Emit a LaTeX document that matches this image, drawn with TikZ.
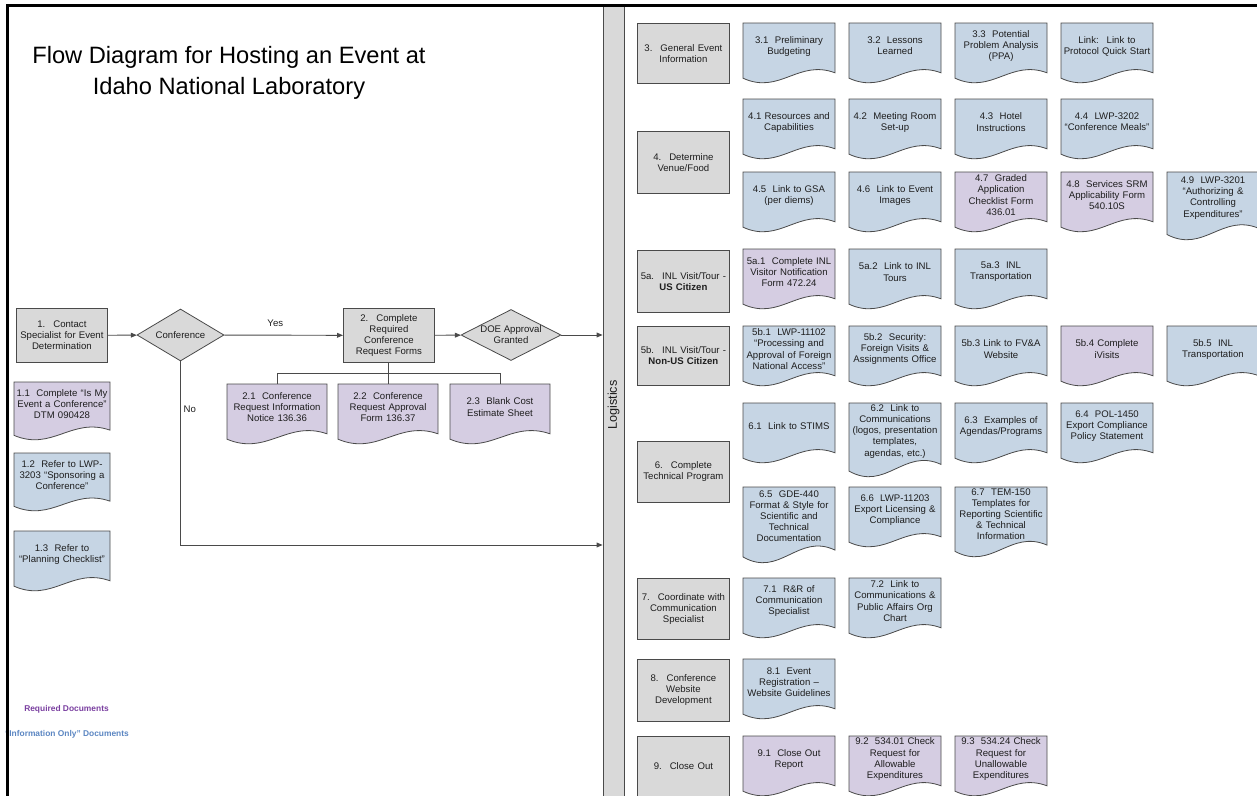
\documentclass[tikz,border=0pt]{standalone}
\usepackage{fontspec}
\setmainfont{Liberation Sans}
\usetikzlibrary{arrows.meta,shapes.geometric,calc}
\definecolor{gfill}{HTML}{D9D9D9}
\definecolor{bfill}{HTML}{C6D5E4}
\definecolor{pfill}{HTML}{D5CDE2}
\definecolor{edge}{HTML}{4A4A4A}
\definecolor{ink}{HTML}{1E1E1E}
\definecolor{reqc}{HTML}{7A3FA0}
\definecolor{infc}{HTML}{5B86C2}
\tikzset{
 every node/.style={font=\fontsize{7.2}{8.3}\selectfont, text=ink},
 gbox/.style={draw=edge, fill=gfill, line width=0.6pt, align=center, inner sep=1pt, anchor=north west},
 docshape/.style={draw=edge, line width=0.6pt},
 doctext/.style={align=center, inner sep=0pt, anchor=north},
 conn/.style={draw=edge, line width=0.7pt},
 arr/.style={conn, -{Triangle[length=4.5pt,width=3.6pt]}},
 decision/.style={diamond, draw=edge, fill=gfill, line width=0.6pt, inner sep=0pt},
}
% #1 name, #2 left, #3 top, #4 width, #5 height, #6 fill, #7 text
\newcommand\docitem[7]{%
 \path[docshape, fill=#6] (#2,#3) -- ({#2+#4},#3) -- ({#2+#4},{#3+0.83*#5})
   .. controls ({#2+0.6*#4},{#3+0.6*#5}) and ({#2+0.4*#4},{#3+1.2*#5}) .. (#2,{#3+0.92*#5}) -- cycle;
 \pgfmathsetlengthmacro\dtw{(#4-4)*0.75pt}%
 \pgfmathsetlengthmacro\dmh{0.76*#5*0.75pt}%
 \node[doctext, text width=\dtw, minimum height=\dmh] (#1) at ({#2+0.5*#4},#3) {#7};
}
% #1 name, #2 left, #3 top, #4 w, #5 h, #6 text
\newcommand\gbx[6]{%
 \pgfmathsetlengthmacro\bw{#4*0.75pt}%
 \pgfmathsetlengthmacro\bh{#5*0.75pt}%
 \pgfmathsetlengthmacro\btw{(#4-4)*0.75pt}%
 \node[gbox, minimum width=\bw, minimum height=\bh, text width=\btw] (#1) at (#2,#3) {#6};
}
\begin{document}
\begin{tikzpicture}[x=0.75pt,y=-0.75pt]
\useasboundingbox (0,0) rectangle (1257,796);
\clip (0,0) rectangle (1257,796);

% title
\node[font=\fontsize{17.75}{23.25}\selectfont, align=center, text=black] (title) at (229,73)
  {Flow Diagram for Hosting an Event at\\Idaho National Laboratory};

% logistics bar
\node[draw=edge, fill=gfill, line width=0.6pt, minimum width=15.75pt, minimum height=600pt, inner sep=0pt,
  label={[rotate=90, font=\fontsize{9.5}{11}\selectfont]center:Logistics}] (logbar) at (613.5,405) {};

% left flow
\gbx{b1}{16}{308}{91}{54}{1.~ Contact\\Specialist for Event\\Determination}
\node[decision, minimum width=65.25pt, minimum height=39pt, label={center:Conference}] (conf) at (180.5,335) {};
\gbx{b2}{343}{308}{91}{54}{2.~ Complete\\Required\\Conference\\Request Forms}
\node[decision, minimum width=75pt, minimum height=38.25pt,
  label={[align=center]center:DOE Approval\\Granted}] (doe) at (511,335) {};

\docitem{d11}{14}{382}{96}{58}{pfill}{1.1~ Complete “Is My\\Event a Conference”\\DTM 090428}
\docitem{d12}{14}{453}{96}{58}{bfill}{1.2~ Refer to LWP-\\3203 “Sponsoring a\\Conference”}
\docitem{d13}{14}{531}{96}{60}{bfill}{1.3~ Refer to\\“Planning Checklist”}

\docitem{d21}{227}{384}{100}{60}{pfill}{2.1~ Conference\\Request Information\\Notice 136.36}
\docitem{d22}{338}{384}{100}{60}{pfill}{2.2~ Conference\\Request Approval\\Form 136.37}
\docitem{d23}{450}{384}{100}{60}{pfill}{2.3~ Blank Cost\\Estimate Sheet}

\draw[arr] (b1) -- (conf);
\draw[arr] (conf) -- node[pos=0.43, above=3pt]{Yes} (b2);
\draw[arr] (b2) -- (doe);
\draw[arr] (doe.east) -- (doe.east -| logbar.west);
\coordinate (nolevel) at (0,545);
\coordinate (noend) at (logbar.west |- nolevel);
\draw[arr] (conf.south) |- node[pos=0.13, right, inner sep=2pt]{No} (noend);
\draw[conn] (b2.south) -- (b2.south |- d22.north);
\draw[conn] (d21.north) |- ($(b2.south)!0.5!(b2.south |- d22.north)$) -| (d23.north);

% legend
\node[font=\bfseries\fontsize{6.3}{7.5}\selectfont, text=reqc] (legreq) at (66.5,709) {Required Documents};
\node[font=\bfseries\fontsize{6.3}{7.5}\selectfont, text=infc] (leginfo) at (67,734) {“Information Only” Documents};

% right side: step boxes
\gbx{b3}{637}{23}{92}{60}{3.~ General Event\\Information}
\gbx{b4}{637}{131}{92}{62}{4.~ Determine\\Venue/Food}
\gbx{b5a}{637}{250}{92}{62}{5a.~ INL Visit/Tour -\\\textbf{US Citizen}}
\gbx{b5b}{637}{326}{92}{59}{5b.~ INL Visit/Tour -\\\textbf{Non-US Citizen}}
\gbx{b6}{637}{441}{92}{61}{6.~ Complete\\Technical Program}
\gbx{b7}{637}{578}{92}{61}{7.~ Coordinate with\\Communication\\Specialist}
\gbx{b8}{637}{659}{92}{62}{8.~ Conference\\Website\\Development}
\gbx{b9}{637}{736}{92}{60}{9.~ Close Out}

% row 3
\docitem{d31}{743}{23}{92}{60}{bfill}{3.1~ Preliminary\\Budgeting}
\docitem{d32}{849}{23}{92}{60}{bfill}{3.2~ Lessons\\Learned}
\docitem{d33}{955}{23}{92}{60}{bfill}{3.3~ Potential\\Problem Analysis\\(PPA)}
\docitem{dlk}{1061}{23}{92}{60}{bfill}{Link:~ Link to\\Protocol Quick Start}
% row 4
\docitem{d41}{743}{99}{92}{60}{bfill}{4.1 Resources and\\Capabilities}
\docitem{d42}{849}{99}{92}{60}{bfill}{4.2~ Meeting Room\\Set-up}
\docitem{d43}{955}{99}{92}{60}{bfill}{4.3~ Hotel\\Instructions}
\docitem{d44}{1061}{99}{92}{60}{bfill}{4.4~ LWP-3202\\“Conference Meals”}
\docitem{d45}{743}{172}{92}{60}{bfill}{4.5~ Link to GSA\\(per diems)}
\docitem{d46}{849}{172}{92}{60}{bfill}{4.6~ Link to Event\\Images}
\docitem{d47}{955}{172}{92}{60}{pfill}{4.7~ Graded\\Application\\Checklist Form\\436.01}
\docitem{d48}{1061}{172}{92}{60}{pfill}{4.8~ Services SRM\\Applicability Form\\540.10S}
\docitem{d49}{1167}{172}{92}{68}{bfill}{4.9~ LWP-3201\\“Authorizing \&\\Controlling\\Expenditures”}
% row 5a / 5b
\docitem{d5a1}{743}{249}{92}{60}{pfill}{5a.1~ Complete INL\\Visitor Notification\\Form 472.24}
\docitem{d5a2}{849}{249}{92}{60}{bfill}{5a.2~ Link to INL\\Tours}
\docitem{d5a3}{955}{249}{92}{60}{bfill}{5a.3~ INL\\Transportation}
\docitem{d5b1}{743}{326}{92}{60}{bfill}{5b.1~ LWP-11102\\“Processing and\\Approval of Foreign\\National Access”}
\docitem{d5b2}{849}{326}{92}{60}{bfill}{5b.2~ Security:\\Foreign Visits \&\\Assignments Office}
\docitem{d5b3}{955}{326}{92}{60}{bfill}{5b.3 Link to FV\&A\\Website}
\docitem{d5b4}{1061}{326}{92}{60}{pfill}{5b.4 Complete\\iVisits}
\docitem{d5b5}{1167}{326}{92}{60}{bfill}{5b.5~ INL\\Transportation}
% row 6
\docitem{d61}{743}{403}{92}{60}{bfill}{6.1~ Link to STIMS}
\docitem{d62}{849}{403}{92}{74}{bfill}{6.2~ Link to\\Communications\\(logos, presentation\\templates,\\agendas, etc.)}
\docitem{d63}{955}{403}{92}{60}{bfill}{6.3~ Examples of\\Agendas/Programs}
\docitem{d64}{1061}{403}{92}{60}{bfill}{6.4~ POL-1450\\Export Compliance\\Policy Statement}
\docitem{d65}{743}{487}{92}{76}{bfill}{6.5~ GDE-440\\Format \& Style for\\Scientific and\\Technical\\Documentation}
\docitem{d66}{849}{487}{92}{60}{bfill}{6.6~ LWP-11203\\Export Licensing \&\\Compliance}
\docitem{d67}{955}{487}{92}{70}{bfill}{6.7~ TEM-150\\Templates for\\Reporting Scientific\\\& Technical\\Information}
% row 7, 8, 9
\docitem{d71}{743}{578}{92}{60}{bfill}{7.1~ R\&R of\\Communication\\Specialist}
\docitem{d72}{849}{578}{92}{60}{bfill}{7.2~ Link to\\Communications \&\\Public Affairs Org\\Chart}
\docitem{d81}{743}{659}{92}{60}{bfill}{8.1~ Event\\Registration –\\Website Guidelines}
\docitem{d91}{743}{736}{92}{60}{pfill}{9.1~ Close Out\\Report}
\docitem{d92}{849}{736}{92}{60}{pfill}{9.2~ 534.01 Check\\Request for\\Allowable\\Expenditures}
\docitem{d93}{955}{736}{92}{60}{pfill}{9.3~ 534.24 Check\\Request for\\Unallowable\\Expenditures}

% frame
\draw[line width=2.25pt, black] (7.5,800) -- (7.5,5) -- (1260,5);
\end{tikzpicture}
\end{document}
